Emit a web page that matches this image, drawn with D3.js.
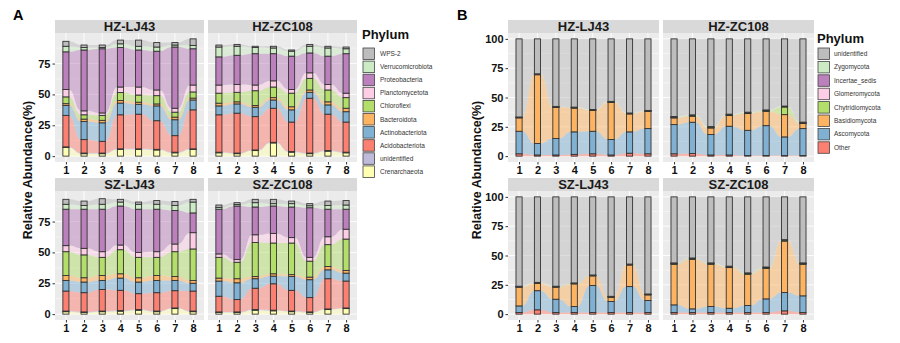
<!DOCTYPE html>
<html>
<head>
<meta charset="utf-8">
<script src="https://cdn.jsdelivr.net/npm/d3@7"></script>
<style>
  body { margin: 0; background: #fff; }
  svg { display: block; }
  text { font-family: "Liberation Sans", Arial, sans-serif; }
</style>
</head>
<body>
<svg id="chart" width="900" height="343"></svg>
<script>
const samples = ['1', '2', '3', '4', '5', '6', '7', '8'];
const facets = ['HZ-LJ43', 'HZ-ZC108', 'SZ-LJ43', 'SZ-ZC108'];

// A: bacteria, legend order (top of the stack first)
const phylaA = ['WPS-2', 'Verrucomicrobiota', 'Proteobacteria', 'Planctomycetota', 'Chloroflexi',
  'Bacteroidota', 'Actinobacteriota', 'Acidobacteriota', 'unidentified', 'Crenarchaeota'];
const coloursA = ['#BDBDBD', '#CCEBC5', '#BC80BD', '#FCCDE5', '#B3DE69',
  '#FDB462', '#80B1D3', '#FB8072', '#BEBADA', '#FFFFB3'];
const ticksA = [0, 25, 50, 75];

const bacHZ_LJ43 = {
  'WPS-2':             [4, 2, 2, 3, 5, 3.6, 2, 5.3],
  'Verrucomicrobiota': [4.5, 2, 1, 3, 3, 3.4, 1.6, 2.7],
  'Proteobacteria':    [30.5, 49.3, 52, 32, 30, 31.4, 49.6, 29.4],
  'Planctomycetota':   [6, 3.2, 2, 4.5, 6.5, 4.6, 3.2, 5.6],
  'Chloroflexi':       [5.5, 3.5, 4, 6.5, 5.8, 6.7, 4, 5],
  'Bacteroidota':      [1.5, 2, 2, 2, 1.7, 1.6, 2.1, 1.5],
  'Actinobacteriota':  [8, 14.6, 15, 9.5, 8, 12, 12.9, 8],
  'Acidobacteriota':   [25.5, 10.9, 9.5, 27.6, 28.1, 23.2, 13.4, 31.6],
  'unidentified':      [0.5, 0.5, 0.5, 0.5, 0.5, 0.5, 0.5, 0.5],
  'Crenarchaeota':     [7, 2, 2, 5.4, 5.4, 5, 2.7, 5.4]
};
const bacHZ_ZC108 = {
  'WPS-2':             [1.6, 1.5, 1, 1.4, 1, 1.5, 1.4, 1.4],
  'Verrucomicrobiota': [8, 7.3, 5, 4.6, 4, 5.4, 6.6, 4],
  'Proteobacteria':    [22.8, 23.7, 25.4, 22, 27, 16.1, 23, 32],
  'Planctomycetota':   [6.6, 6.3, 4.6, 5, 3, 4.5, 4.4, 3.6],
  'Chloroflexi':       [8.1, 7.7, 12, 8.6, 11, 9.4, 9.6, 8.6],
  'Bacteroidota':      [2.2, 1.7, 1.4, 1.9, 2.5, 1.9, 2.5, 2.8],
  'Actinobacteriota':  [7.2, 7.5, 7.6, 6.7, 9.9, 4.8, 7.5, 8.4],
  'Acidobacteriota':   [30.3, 32.3, 27, 27.6, 23.9, 44.4, 29.5, 24.4],
  'unidentified':      [0.5, 0.5, 0.5, 0.5, 0.5, 0.5, 0.5, 0.5],
  'Crenarchaeota':     [2.7, 2, 4.5, 10.7, 3.2, 2, 4, 2.7]
};
const bacSZ_LJ43 = {
  'WPS-2':             [4, 3.6, 4.5, 2.2, 1.8, 3, 3.3, 2.2],
  'Verrucomicrobiota': [4, 3, 4, 3.2, 4, 4, 4, 8.8],
  'Proteobacteria':    [29.5, 31.7, 34.4, 31.6, 35, 34.4, 27.2, 16],
  'Planctomycetota':   [4.9, 5.3, 4.6, 3.8, 4, 4.6, 6.2, 13.2],
  'Chloroflexi':       [19.3, 18.5, 14.7, 19.5, 16.5, 14.7, 20.1, 25.5],
  'Bacteroidota':      [4, 3.5, 4, 3.5, 3.5, 4, 3.2, 2.3],
  'Actinobacteriota':  [8.6, 8.6, 7.3, 9.9, 9.4, 9.9, 8.3, 6.3],
  'Acidobacteriota':   [16.2, 15.6, 17.5, 16.4, 12.9, 14.9, 14, 16.2],
  'unidentified':      [0.5, 0.5, 0.5, 0.5, 0.5, 0.5, 0.5, 0.5],
  'Crenarchaeota':     [2, 1.3, 2, 2.4, 3.2, 2, 4.5, 2]
};
const bacSZ_ZC108 = {
  'WPS-2':             [1.9, 1.5, 2.7, 3.5, 2.1, 1.7, 3.6, 3.6],
  'Verrucomicrobiota': [1.5, 1.2, 3.5, 1.9, 2.7, 1.6, 3, 3.4],
  'Proteobacteria':    [36.2, 43.4, 22.5, 22.2, 24.8, 40.2, 22.3, 16.2],
  'Planctomycetota':   [2.8, 2.2, 6.3, 7.8, 4.4, 3.1, 6.4, 8],
  'Chloroflexi':       [16.8, 13.3, 27.5, 24.9, 25.6, 12.9, 17.7, 25.4],
  'Bacteroidota':      [2.4, 3.3, 1.8, 1.9, 1.5, 2.1, 2.7, 2.2],
  'Actinobacteriota':  [12.3, 13.6, 7.7, 6.2, 11.2, 14.5, 7.2, 6.4],
  'Acidobacteriota':   [12.7, 10, 17.3, 21.4, 16.8, 11.6, 24.5, 21.8],
  'unidentified':      [0.5, 0.5, 0.5, 0.5, 0.5, 0.5, 0.5, 0.5],
  'Crenarchaeota':     [1.3, 1.3, 3.2, 2.7, 2, 1.3, 3.7, 4.5]
};

// B: fungi
const phylaB = ['unidentified', 'Zygomycota', 'Incertae_sedis', 'Glomeromycota',
  'Chytridiomycota', 'Basidiomycota', 'Ascomycota', 'Other'];
const coloursB = ['#BDBDBD', '#CCEBC5', '#BC80BD', '#FCCDE5',
  '#B3DE69', '#FDB462', '#80B1D3', '#FB8072'];
const ticksB = [0, 25, 50, 75, 100];

const funHZ_LJ43 = {
  'unidentified':    [66.6, 29.8, 57.6, 58.2, 60.2, 53.3, 63.2, 61.0],
  'Zygomycota':      [0.3, 0.3, 0.3, 0.3, 0.3, 0.3, 0.3, 0.3],
  'Incertae_sedis':  [0.1, 0.1, 0.1, 0.1, 0.1, 0.1, 0.1, 0.1],
  'Glomeromycota':   [0.1, 0.1, 0.1, 0.1, 0.1, 0.1, 0.1, 0.1],
  'Chytridiomycota': [0.3, 0.3, 0.3, 0.3, 0.3, 0.3, 0.3, 0.3],
  'Basidiomycota':   [11.4, 58.6, 26.6, 20.3, 17.8, 31.7, 15.3, 14.7],
  'Ascomycota':      [19.2, 9.8, 14, 19.2, 19.2, 13.2, 18.2, 21.5],
  'Other':           [2, 1, 1, 1.5, 2, 1, 2.5, 2]
};
const funHZ_ZC108 = {
  'unidentified':    [66.2, 64.8, 74.8, 64.2, 62.5, 60.6, 57.3, 71.0],
  'Zygomycota':      [0.5, 0.5, 0.5, 0.5, 0.5, 0.5, 0.5, 0.5],
  'Incertae_sedis':  [0.1, 0.1, 0.1, 0.1, 0.1, 0.1, 0.1, 0.1],
  'Glomeromycota':   [0.1, 0.1, 0.1, 0.1, 0.1, 0.1, 0.1, 0.1],
  'Chytridiomycota': [0.5, 0.5, 0.5, 0.5, 0.5, 0.5, 6.6, 0.5],
  'Basidiomycota':   [5.7, 5.1, 5.6, 9.1, 14.3, 12.2, 19, 4.3],
  'Ascomycota':      [24.9, 26.6, 17.4, 24.5, 21.5, 25.5, 15.9, 23],
  'Other':           [2, 2.3, 1, 1, 0.5, 0.5, 0.5, 0.5]
};
const funSZ_LJ43 = {
  'unidentified':    [76.2, 72.9, 76.2, 73.4, 66.6, 84.8, 57.3, 82.8],
  'Zygomycota':      [0.3, 0.3, 0.3, 0.3, 0.3, 0.3, 0.3, 0.3],
  'Incertae_sedis':  [0.1, 0.1, 0.1, 0.1, 0.1, 0.1, 0.1, 0.1],
  'Glomeromycota':   [0.1, 0.1, 0.1, 0.1, 0.1, 0.1, 0.1, 0.1],
  'Chytridiomycota': [0.3, 0.3, 0.3, 0.3, 0.3, 0.3, 0.3, 0.3],
  'Basidiomycota':   [16, 6.3, 10.3, 19.3, 8.2, 3.6, 18.4, 4.8],
  'Ascomycota':      [5.6, 16.3, 11.3, 5.1, 23, 9.4, 22.1, 10.2],
  'Other':           [1.4, 3.7, 1.4, 1.4, 1.4, 1.4, 1.4, 1.4]
};
const funSZ_ZC108 = {
  'unidentified':    [56.3, 52.1, 56.3, 59.1, 64.8, 59.8, 36.5, 56.3],
  'Zygomycota':      [0.5, 0.5, 0.5, 0.5, 0.5, 0.5, 0.5, 0.5],
  'Incertae_sedis':  [0.1, 0.1, 0.1, 0.1, 0.1, 0.1, 0.1, 0.1],
  'Glomeromycota':   [0.1, 0.1, 0.1, 0.1, 0.1, 0.1, 0.1, 0.1],
  'Chytridiomycota': [0.5, 0.5, 0.5, 0.5, 0.5, 0.5, 0.5, 0.5],
  'Basidiomycota':   [34.6, 42.2, 36, 34.7, 26.6, 26, 43.9, 26.9],
  'Ascomycota':      [6.5, 3.1, 5.1, 3.6, 6, 11.6, 15.6, 14.2],
  'Other':           [1.4, 1.4, 1.4, 1.4, 1.4, 1.4, 2.8, 1.4]
};

const svg = d3.select('#chart');
const stripH = 13;
const rowTops = [33, 191];
const panelH = 129;

function drawSet(cfg) {
  let keysUp = cfg.phyla.slice().reverse();
  let colour = d3.scaleOrdinal().domain(cfg.phyla).range(cfg.colours);

  let stacks = cfg.frames.map(function(fr) {
    let rows = samples.map(function(s, i) {
      let r = { sample: s };
      cfg.phyla.forEach(p => r[p] = fr[p][i]);
      return r;
    });
    return d3.stack().keys(keysUp)(rows);
  });

  let yMax = cfg.yMax;
  if (yMax == null) {
    yMax = d3.max(cfg.frames, fr => d3.max(samples, (s, i) => d3.sum(cfg.phyla, p => fr[p][i])));
  }
  let y = d3.scaleLinear()
    .domain([-0.05 * yMax, 1.05 * yMax])
    .range([panelH, 0]);
  let x = d3.scalePoint()
    .domain(samples)
    .range([0, cfg.colW])
    .padding(0.6);
  let bw = x.step() / 3;

  let minor = d3.range(cfg.ticks.length - 1).map(i => (cfg.ticks[i] + cfg.ticks[i + 1]) / 2);
  if (cfg.ticks[cfg.ticks.length - 1] + 12.5 < y.domain()[1]) minor.push(cfg.ticks[cfg.ticks.length - 1] + 12.5);

  let area = d3.area()
    .x(p => p[0])
    .y0(p => y(p[1][0]))
    .y1(p => y(p[1][1]))
    .curve(d3.curveBumpX);

  facets.forEach(function(name, fi) {
    let col = fi % 2, row = Math.floor(fi / 2);
    let px = cfg.left + col * (cfg.colW + cfg.gap);
    let py = rowTops[row];

    // strip
    svg.append('rect')
      .attr('x', px).attr('y', py - stripH)
      .attr('width', cfg.colW).attr('height', stripH)
      .attr('fill', '#D9D9D9');
    svg.append('text')
      .attr('x', px + cfg.colW / 2).attr('y', py - 2.4)
      .attr('text-anchor', 'middle')
      .attr('font-size', 13).attr('font-weight', 'bold')
      .attr('fill', '#1a1a1a')
      .text(name);

    let g = svg.append('g').attr('transform', `translate(${px},${py})`);
    g.append('rect')
      .attr('width', cfg.colW).attr('height', panelH)
      .attr('fill', '#EBEBEB');

    g.selectAll('.minor').data(minor).enter().append('line')
      .attr('x1', 0).attr('x2', cfg.colW)
      .attr('y1', d => y(d)).attr('y2', d => y(d))
      .attr('stroke', '#fff').attr('stroke-width', 0.45);
    g.selectAll('.major').data(cfg.ticks).enter().append('line')
      .attr('x1', 0).attr('x2', cfg.colW)
      .attr('y1', d => y(d)).attr('y2', d => y(d))
      .attr('stroke', '#fff').attr('stroke-width', 0.9);
    g.selectAll('.vgrid').data(samples).enter().append('line')
      .attr('x1', d => x(d)).attr('x2', d => x(d))
      .attr('y1', 0).attr('y2', panelH)
      .attr('stroke', '#fff').attr('stroke-width', 0.9);

    let series = stacks[fi];

    // flows between adjacent bars
    series.forEach(function(sr) {
      let pts = [];
      sr.forEach(function(d) {
        let cx = x(d.data.sample);
        pts.push([cx - bw / 2, d]);
        pts.push([cx + bw / 2, d]);
      });
      g.append('path')
        .datum(pts)
        .attr('d', area)
        .attr('fill', colour(sr.key))
        .attr('fill-opacity', 0.5);
    });

    // stacked bars
    series.forEach(function(sr) {
      g.selectAll(null)
        .data(sr.filter(d => d[1] - d[0] > 0))
        .enter()
        .append('rect')
        .attr('x', d => x(d.data.sample) - bw / 2)
        .attr('y', d => y(d[1]))
        .attr('width', bw)
        .attr('height', d => y(d[0]) - y(d[1]))
        .attr('fill', colour(sr.key))
        .attr('stroke', '#333')
        .attr('stroke-width', 0.9);
    });

    // axes
    let xa = g.append('g')
      .attr('transform', `translate(0,${panelH})`)
      .call(d3.axisBottom(x).tickSize(2.5).tickPadding(1.2));
    xa.select('.domain').remove();
    if (col === 0) {
      let ya = g.append('g')
        .call(d3.axisLeft(y).tickValues(cfg.ticks).tickSize(2.5).tickPadding(2));
      ya.select('.domain').remove();
    }
    g.selectAll('.tick line').attr('stroke', '#333');
    g.selectAll('.tick text')
      .attr('font-family', '"Liberation Sans", Arial, sans-serif')
      .attr('font-size', 11)
      .attr('font-weight', 'bold')
      .attr('fill', '#111');
  });

  // y axis title
  svg.append('text')
    .attr('transform', `translate(${cfg.titleX},170) rotate(-90)`)
    .attr('text-anchor', 'middle')
    .attr('font-size', 12.5).attr('font-weight', 'bold')
    .attr('fill', '#111')
    .text('Relative Abundance(%)');

  // panel letter
  svg.append('text')
    .attr('x', cfg.letterX).attr('y', 20)
    .attr('font-size', 14.5).attr('font-weight', 'bold')
    .text(cfg.letter);

  // legend
  let lg = svg.append('g').attr('transform', `translate(${cfg.legendX},0)`);
  lg.append('text')
    .attr('x', 0).attr('y', cfg.legendTitleY)
    .attr('font-size', 13).attr('font-weight', 'bold')
    .attr('fill', '#111')
    .text('Phylum');
  cfg.phyla.forEach(function(p, i) {
    let ky = cfg.keyTop + i * cfg.keyStep;
    lg.append('rect')
      .attr('x', 1).attr('y', ky)
      .attr('width', 11.5).attr('height', 11.5)
      .attr('fill', colour(p))
      .attr('stroke', '#444').attr('stroke-width', 0.8);
    lg.append('text')
      .attr('x', cfg.labelDx).attr('y', ky + 8)
      .attr('font-size', 6.5)
      .attr('fill', '#333')
      .text(p);
  });
}

drawSet({
  frames: [bacHZ_LJ43, bacHZ_ZC108, bacSZ_LJ43, bacSZ_ZC108],
  phyla: phylaA, colours: coloursA, ticks: ticksA,
  left: 55, colW: 149, gap: 4,
  titleX: 32, letter: 'A', letterX: 13,
  legendX: 362, legendTitleY: 38.5, keyTop: 48, keyStep: 13.1, labelDx: 18
});

drawSet({
  frames: [funHZ_LJ43, funHZ_ZC108, funSZ_LJ43, funSZ_ZC108],
  phyla: phylaB, colours: coloursB, ticks: ticksB, yMax: 100,
  left: 508, colW: 151, gap: 4,
  titleX: 481, letter: 'B', letterX: 457,
  legendX: 817, legendTitleY: 42.5, keyTop: 48, keyStep: 13.4, labelDx: 17
});
</script>
</body>
</html>
